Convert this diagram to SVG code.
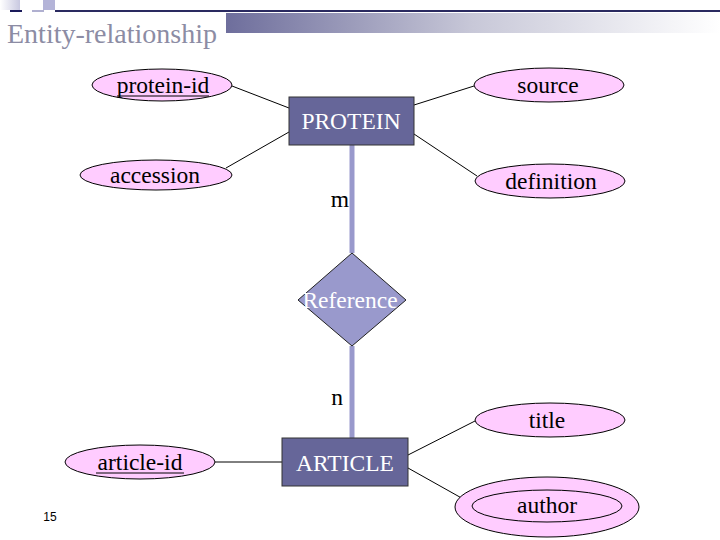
<svg xmlns="http://www.w3.org/2000/svg" width="720" height="540" viewBox="0 0 720 540">
<defs>
<linearGradient id="bar" x1="0" y1="0" x2="1" y2="0">
<stop offset="0" stop-color="#6e6e9c"/>
<stop offset="0.5" stop-color="#c8c8d8"/>
<stop offset="1" stop-color="#ffffff"/>
</linearGradient>
<linearGradient id="sq1" x1="0" y1="0" x2="1" y2="0">
<stop offset="0" stop-color="#ffffff"/>
<stop offset="1" stop-color="#c8c8e0"/>
</linearGradient>
<style>
.attr{fill:#ffccff;stroke:#000;stroke-width:1}
.ent{fill:#666699;stroke:#333;stroke-width:1}
.t{font-family:'Liberation Serif','Times New Roman',serif;font-size:23.5px;fill:#000;text-anchor:middle}
.tw{font-family:'Liberation Serif','Times New Roman',serif;font-size:23.5px;fill:#fff;text-anchor:middle}
.ln{stroke:#000;stroke-width:1;fill:none}
.rel{stroke:#9999cc;stroke-width:5;fill:none}
</style>
</defs>
<rect width="720" height="540" fill="#fff"/>
<g id="header">
<rect x="0" y="0" width="20" height="10" fill="url(#sq1)"/>
<rect x="43" y="0" width="12" height="10" fill="#b4b4d8"/>
<rect x="10" y="10" width="12" height="2" fill="#1a1a5a"/>
<rect x="32" y="10" width="12" height="2" fill="#b0b0d0"/>
<rect x="55" y="10" width="665" height="2" fill="#2a2a60"/>
<rect x="226" y="13" width="494" height="20" fill="url(#bar)"/>
<text x="7" y="43" font-family="'Liberation Serif','Times New Roman',serif" font-size="28" fill="#8c8ca4">Entity-relationship</text>
</g>
<g id="connectors">
<line class="ln" x1="232" y1="86" x2="289" y2="108"/>
<line class="ln" x1="226" y1="168" x2="289" y2="132"/>
<line class="ln" x1="474" y1="86" x2="414" y2="105"/>
<line class="ln" x1="477" y1="176" x2="414" y2="134"/>
<line class="rel" x1="352" y1="145" x2="352" y2="253"/>
<line class="rel" x1="352" y1="346" x2="352" y2="438"/>
<line class="ln" x1="215" y1="462" x2="282" y2="462"/>
<line class="ln" x1="408" y1="455" x2="475" y2="421"/>
<line class="ln" x1="408" y1="468" x2="474" y2="505"/>
</g>
<g id="protein-id">
<ellipse class="attr" cx="162" cy="85" rx="70" ry="16"/>
<text class="t" x="163" y="93">protein-id</text>
<line x1="117" y1="96" x2="209" y2="96" stroke="#000" stroke-width="1"/>
</g>
<g id="source">
<ellipse class="attr" cx="549" cy="85" rx="75" ry="17"/>
<text class="t" x="548" y="93">source</text>
</g>
<g id="accession">
<ellipse class="attr" cx="156" cy="175" rx="76" ry="15" stroke-width="2"/>
<text class="t" x="155" y="183">accession</text>
</g>
<g id="definition">
<ellipse class="attr" cx="550" cy="181" rx="75" ry="17"/>
<text class="t" x="551" y="189">definition</text>
</g>
<g id="PROTEIN">
<rect class="ent" x="289" y="97" width="125" height="48"/>
<text class="tw" x="351" y="129">PROTEIN</text>
</g>
<text class="t" x="340" y="207">m</text>
<g id="Reference">
<polygon points="352,253 406,300 352,346 298,300" fill="#9999cc" stroke="#222" stroke-width="1"/>
<text class="tw" x="350" y="308">Reference</text>
</g>
<text class="t" x="337" y="405">n</text>
<g id="title">
<ellipse class="attr" cx="550" cy="420" rx="75" ry="17"/>
<text class="t" x="547" y="428">title</text>
</g>
<g id="article-id">
<ellipse class="attr" cx="140" cy="462" rx="75" ry="17"/>
<text class="t" x="140" y="470">article-id</text>
<line x1="96" y1="473" x2="184" y2="473" stroke="#000" stroke-width="1"/>
</g>
<g id="ARTICLE">
<rect class="ent" x="282" y="438" width="126" height="48"/>
<text class="tw" x="345" y="471">ARTICLE</text>
</g>
<g id="author">
<ellipse class="attr" cx="547" cy="507" rx="92" ry="30"/>
<ellipse class="attr" cx="547" cy="506" rx="75" ry="16"/>
<text class="t" x="547" y="513">author</text>
</g>
<text x="50" y="521" font-family="'Liberation Sans',sans-serif" font-size="12" fill="#000" text-anchor="middle">15</text>
</svg>
